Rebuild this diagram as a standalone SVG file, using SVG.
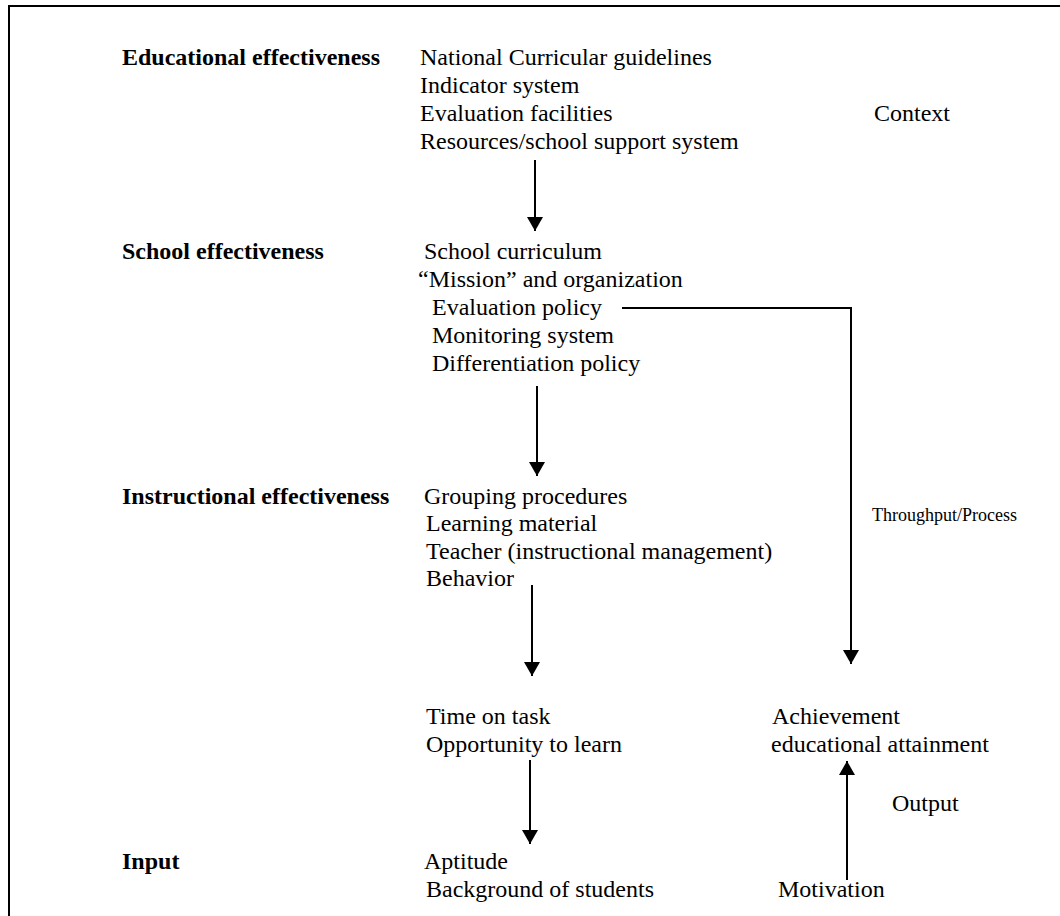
<svg xmlns="http://www.w3.org/2000/svg" width="1060" height="916" viewBox="0 0 1060 916">
<style>
text{font-family:"Liberation Serif","Times New Roman",serif;font-size:24px;fill:#000}
.b{font-weight:bold}
.s{font-size:18px}
.c{stroke:#000;stroke-width:2;fill:none}
</style>
<defs>
<marker id="ah" markerWidth="7" markerHeight="8" refX="7" refY="4" orient="auto" markerUnits="strokeWidth">
<path d="M0,0 L7,4 L0,8 z" fill="#000"/>
</marker>
</defs>
<rect width="1060" height="916" fill="#fff"/>
<path d="M9,940 L9,6 L1080,6" stroke="#000" stroke-width="2" fill="none"/>
<g id="context">
<text x="122" y="65" class="b">Educational effectiveness</text>
<text x="420" y="65">National Curricular guidelines</text>
<text x="420" y="93">Indicator system</text>
<text x="420" y="121">Evaluation facilities</text>
<text x="420" y="149">Resources/school support system</text>
<text x="874" y="121">Context</text>
</g>
<g id="school">
<text x="122" y="259" class="b">School effectiveness</text>
<text x="424" y="259">School curriculum</text>
<text x="418" y="287">“Mission” and organization</text>
<text x="432" y="315">Evaluation policy</text>
<text x="432" y="343">Monitoring system</text>
<text x="432" y="371">Differentiation policy</text>
</g>
<g id="instructional">
<text x="122" y="504" class="b">Instructional effectiveness</text>
<text x="424" y="504">Grouping procedures</text>
<text x="426" y="531">Learning material</text>
<text x="426" y="559">Teacher (instructional management)</text>
<text x="426" y="586">Behavior</text>
</g>
<g id="time">
<text x="426" y="724">Time on task</text>
<text x="426" y="752">Opportunity to learn</text>
</g>
<g id="input">
<text x="122" y="869" class="b">Input</text>
<text x="424" y="869">Aptitude</text>
<text x="426" y="897">Background of students</text>
</g>
<g id="achievement">
<text x="772" y="724">Achievement</text>
<text x="771" y="752">educational attainment</text>
</g>
<g id="motivation">
<text x="778" y="897">Motivation</text>
</g>
<g id="labels">
<text x="872" y="521" class="s">Throughput/Process</text>
<text x="892" y="811">Output</text>
</g>
<g id="connectors">
<line class="c" x1="535" y1="160" x2="535" y2="231" marker-end="url(#ah)"/>
<line class="c" x1="537" y1="386" x2="537" y2="476" marker-end="url(#ah)"/>
<line class="c" x1="532" y1="585" x2="532" y2="676" marker-end="url(#ah)"/>
<line class="c" x1="530" y1="760" x2="530" y2="844" marker-end="url(#ah)"/>
<polyline class="c" points="622,308 851,308 851,664" marker-end="url(#ah)"/>
<line class="c" x1="847" y1="880" x2="847" y2="761" marker-end="url(#ah)"/>
</g>
</svg>
